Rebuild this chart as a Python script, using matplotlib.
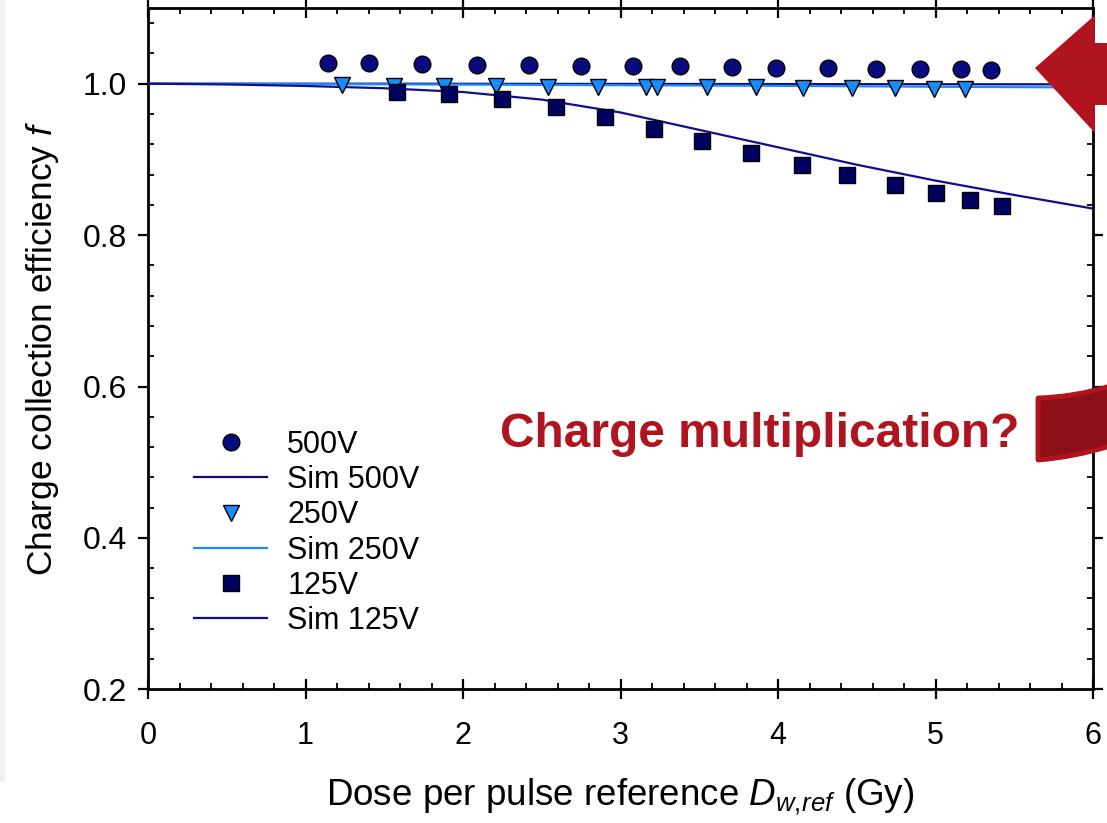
import numpy as np
import matplotlib
matplotlib.use('Agg')
import matplotlib.pyplot as plt
from matplotlib.patches import Polygon, PathPatch, Rectangle
from matplotlib.path import Path
from matplotlib.ticker import MultipleLocator

plt.rcParams['font.family'] = ['Liberation Sans', 'DejaVu Sans']
plt.rcParams['mathtext.fontset'] = 'custom'
plt.rcParams['mathtext.rm'] = 'Liberation Sans'
plt.rcParams['mathtext.it'] = 'Liberation Sans:italic'

# Measured points
dose_500 = [1.14, 1.40, 1.74, 2.09, 2.42, 2.75, 3.08, 3.38, 3.71, 3.99, 4.32, 4.62, 4.90, 5.16, 5.35]
f_500 = [1.028, 1.027, 1.026, 1.025, 1.025, 1.023, 1.023, 1.023, 1.022, 1.021, 1.021, 1.020, 1.019, 1.019, 1.018]

dose_250 = [1.23, 1.56, 1.88, 2.21, 2.54, 2.86, 3.16, 3.23, 3.55, 3.86, 4.16, 4.47, 4.74, 4.99, 5.19]
f_250 = [0.998, 0.997, 0.997, 0.997, 0.996, 0.996, 0.995, 0.995, 0.995, 0.995, 0.994, 0.994, 0.994, 0.993, 0.993]

dose_125 = [1.58, 1.91, 2.25, 2.59, 2.90, 3.21, 3.52, 3.83, 4.15, 4.44, 4.74, 5.00, 5.22, 5.42]
f_125 = [0.989, 0.986, 0.980, 0.969, 0.956, 0.940, 0.924, 0.908, 0.892, 0.879, 0.866, 0.855, 0.846, 0.839]

# Simulation curves
sim_dose = [0, 0.5, 1.0, 1.5, 2.0, 2.5, 3.0, 3.5, 4.0, 4.5, 5.0, 5.5, 6.0]
sim_500 = [1.0, 1.0, 1.0, 1.0, 0.9999, 0.9998, 0.9997, 0.9996, 0.9995, 0.9994, 0.9993, 0.9992, 0.9991]
sim_250 = [1.0, 0.9998, 0.9995, 0.9992, 0.9988, 0.9984, 0.998, 0.9976, 0.9972, 0.9966, 0.996, 0.9955, 0.995]
sim_125 = [1.0, 0.999, 0.997, 0.994, 0.989, 0.979, 0.962, 0.939, 0.916, 0.893, 0.872, 0.853, 0.835]

W, H = 1107, 823
fig = plt.figure(figsize=(W / 100, H / 100), dpi=100)
ax = fig.add_axes([148 / W, 1 - 689.3 / H, (1093 - 148) / W, (689.3 - 8) / H])

navy = '#0a0a80'
dark = '#000060'
light = '#1a8cff'

ax.plot(dose_500, f_500, 'o', color=navy, mec='black', mew=1, ms=12, label='500V', zorder=4)
ax.plot(sim_dose, sim_500, '-', color=navy, lw=1.6, label='Sim 500V', zorder=3)
ax.plot(dose_250, f_250, 'v', color=light, mec='black', mew=1, ms=11.5, label='250V', zorder=4)
ax.plot(sim_dose, sim_250, '-', color=light, lw=1.6, label='Sim 250V', zorder=3)
ax.plot(dose_125, f_125, 's', color=dark, mec='black', mew=1, ms=11, label='125V', zorder=4)
ax.plot(sim_dose, sim_125, '-', color='#10108c', lw=1.6, label='Sim 125V', zorder=3)

ax.set_xlim(0, 6)
ax.set_ylim(0.2, 1.1)
ax.set_xticks([0, 1, 2, 3, 4, 5, 6])
ax.set_yticks([0.2, 0.4, 0.6, 0.8, 1.0])
ax.set_yticklabels(['0.2', '0.4', '0.6', '0.8', '1.0'])
ax.xaxis.set_minor_locator(MultipleLocator(0.2))
ax.yaxis.set_minor_locator(MultipleLocator(0.04))

for s in ax.spines.values():
    s.set_linewidth(2)
ax.tick_params(axis='x', which='major', direction='inout', length=14, width=1.6, labelsize=22, pad=16, top=True)
ax.tick_params(axis='y', which='major', direction='out', length=7, width=1.6, labelsize=23, pad=8, right=True)
ax.tick_params(which='minor', direction='in', length=4.5, width=1.3, top=True, right=True)

ax.set_xlabel(r'Dose per pulse reference $\mathit{D}_{\mathit{w,\!ref}}$ (Gy)', fontsize=26.5, labelpad=18)
ax.set_ylabel(r'Charge collection efficiency $\mathit{f}$', fontsize=25.5, labelpad=16)

ax.legend(loc='upper left', bbox_to_anchor=(194 / W, 1 - 430 / H), bbox_transform=fig.transFigure,
          frameon=False, fontsize=22, handlelength=2.4, handletextpad=0.65,
          labelspacing=0.17, borderpad=0, borderaxespad=0, numpoints=1)

# Annotation text and red arrows
red = '#b0141e'
fig.text(500 / W, 1 - 447 / H, 'Charge multiplication?', color=red, fontsize=34.5,
         fontweight='bold', va='baseline', ha='left')

def fpt(x, y):
    return (x / W, 1 - y / H)

arrow = Polygon([fpt(1035, 68), fpt(1095, 15), fpt(1095, 43), fpt(1110, 43),
                 fpt(1110, 105), fpt(1095, 105), fpt(1095, 133)],
                closed=True, transform=fig.transFigure, facecolor=red, edgecolor='none',
                clip_on=False, zorder=10)
fig.patches.append(arrow)

verts = [fpt(1038, 398), fpt(1075, 397), fpt(1110, 386),
         fpt(1110, 446), fpt(1075, 457), fpt(1038, 460), fpt(1038, 398)]
codes = [Path.MOVETO, Path.CURVE3, Path.CURVE3, Path.LINETO, Path.CURVE3, Path.CURVE3, Path.CLOSEPOLY]
bend = PathPatch(Path(verts, codes), transform=fig.transFigure, facecolor='#8c0f18',
                 edgecolor=red, lw=3.5, joinstyle='round', clip_on=False, zorder=10)
fig.patches.append(bend)

band = Rectangle((0, 1 - 782 / H), 4.5 / W, 782 / H, transform=fig.transFigure,
                 facecolor='#f0f0f0', edgecolor='none', zorder=0)
fig.patches.append(band)

fig.savefig('out.png', dpi=100)
